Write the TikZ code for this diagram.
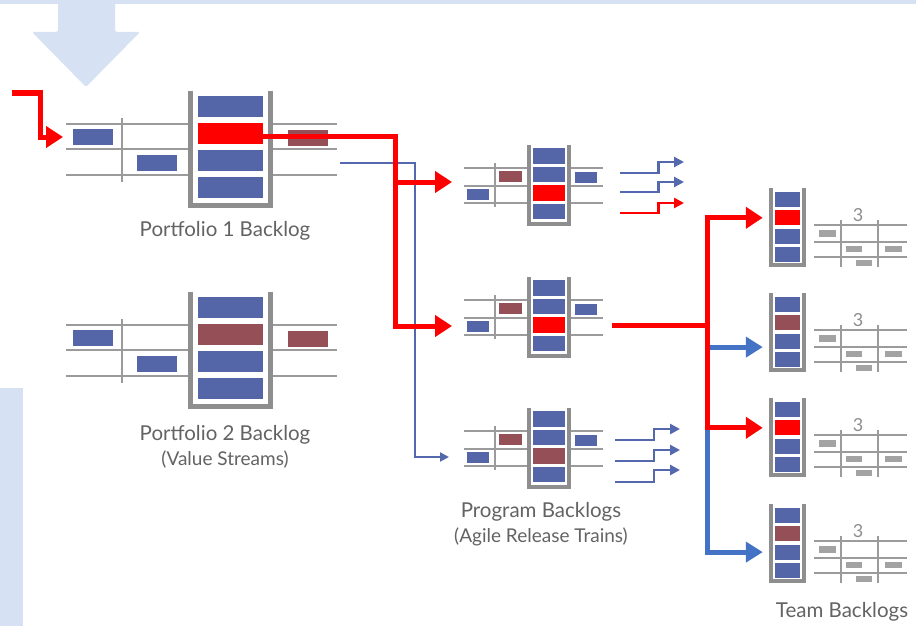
\documentclass[tikz,border=0pt]{standalone}
\usepackage{fontspec}
\setmainfont{Lato}
\usetikzlibrary{arrows.meta, positioning, calc}
\definecolor{bandblue}{HTML}{D6E2F3}
\definecolor{itemblue}{HTML}{5466A8}
\definecolor{itemdark}{HTML}{954F56}
\definecolor{itemred}{HTML}{FF0000}
\definecolor{wallgray}{HTML}{8E8E8E}
\definecolor{linegray}{HTML}{9B9B9B}
\definecolor{taskgray}{HTML}{A3A3A3}
\definecolor{flowblue}{HTML}{4472C4}
\definecolor{thinblue}{HTML}{5468AE}
\definecolor{captiongray}{HTML}{636363}
\tikzset{
  redflow/.style={-{Triangle[length=17pt,width=21pt]}, line width=5pt, draw=itemred},
  blueflow/.style={-{Triangle[length=17pt,width=20pt]}, line width=5pt, draw=flowblue},
  thinflow/.style={-{Triangle[length=9pt,width=9pt]}, line width=2pt, draw=thinblue},
  stepflow/.style={-{Triangle[length=10pt,width=10pt]}, line width=2.8pt},
  wall/.style={draw=wallgray, line width=5pt},
  thinwall/.style={draw=wallgray, line width=4pt},
  rowline/.style={draw=linegray, line width=2.2pt},
  cup/.style={inner sep=0pt, outer sep=0pt},
  item/.style={inner sep=0pt, outer sep=0pt, minimum width=65pt, minimum height=21.5pt},
  card/.style={inner sep=0pt, outer sep=0pt, minimum width=40pt, minimum height=16pt},
  task/.style={fill=taskgray, inner sep=0pt, minimum width=16.5pt, minimum height=6.5pt},
  pts/.style={text=wallgray, font=\fontsize{18}{18}\selectfont, inner sep=0pt},
  caption/.style={text=captiongray, font=\fontsize{20.5}{23}\selectfont, inner sep=0pt},
  subcaption/.style={text=captiongray, font=\fontsize{19}{22}\selectfont, inner sep=0pt},
  % ---- backlog blocks, origin = top left of the cup ----
  pics/portfolio/.style={code={
    \foreach \y in {33,58,84} {
      \draw[rowline] (-122,\y) -- (0,\y);
      \draw[rowline] (85,\y) -- (149,\y);
    }
    \draw[rowline] (-66,27) -- (-66,91);
    \node[cup, minimum width=80pt, minimum height=114.5pt] (-cup) at (42.5,57.25) {};
    \draw[wall] (-cup.north west) |- (-cup.south east) -- (-cup.north east);
    \foreach \c [count=\i] in {itemblue,#1,itemblue,itemblue}
      \node[item, fill=\c] (-\i) at (42.5,-11.5+27*\i) {};
    \node[card, fill=itemblue] (-a) at (-95,46) {};
    \node[card, fill=itemblue] (-b) at (-31.5,71.5) {};
    \node[card, fill=itemdark] (-r) at (120,47) {};
  }},
  pics/program/.style={code={
    \foreach \y in {23,41,58} {
      \draw[rowline] (-63,\y) -- (0,\y);
      \draw[rowline] (44,\y) -- (76,\y);
    }
    \draw[rowline] (-32,18) -- (-32,62);
    \node[cup, minimum width=40pt, minimum height=79pt] (-cup) at (22,39.5) {};
    \draw[thinwall] (-cup.north west) |- (-cup.south east) -- (-cup.north east);
    \foreach \c [count=\i] in {itemblue,itemblue,#1,itemblue}
      \node[item, minimum width=32pt, minimum height=15.5pt, fill=\c] (-\i) at (22,-7.5+18.5*\i) {};
    \node[card, minimum width=23pt, minimum height=11pt, fill=itemdark] (-a) at (-16.5,31.5) {};
    \node[card, minimum width=22pt, minimum height=11pt, fill=itemblue] (-b) at (-49,49) {};
    \node[card, minimum width=22pt, minimum height=11pt, fill=itemblue] (-r) at (59,32) {};
  }},
  pics/team/.style={code={
    \node[cup, minimum width=32.5pt, minimum height=77pt] (-cup) at (18.25,38.5) {};
    \draw[thinwall] (-cup.north west) |- (-cup.south east) -- (-cup.north east);
    \foreach \c [count=\i] in {itemblue,#1,itemblue,itemblue}
      \node[item, minimum width=25pt, minimum height=15pt, fill=\c] (-\i) at (18.25,-6.8+18.3*\i) {};
    \foreach \y in {37,54,69} \draw[rowline, line width=2pt] (45,\y) -- (138,\y);
    \foreach \x in {72,109} \draw[rowline, line width=2pt] (\x,32) -- (\x,79);
    \node[pts] (-pts) at (89,27) {3};
    \node[task] (-t1) at (58.5,45.5) {};
    \node[task] (-t2) at (85,61) {};
    \node[task] (-t3) at (124.5,61) {};
    \node[task] (-t4) at (95,75) {};
  }},
}

\begin{document}
\begin{tikzpicture}[x=1pt, y=-1pt]

\useasboundingbox (0,0) rectangle (916,626);
\fill[white] (0,0) rectangle (916,626);

% ---- light blue frame pieces ----
\fill[bandblue] (0,0) rectangle (916,4);
\fill[bandblue, rounded corners=1.5pt] (58,0) -- (58,32) -- (32,32) -- (86,87)
  -- (140,32) -- (115,32) -- (115,0) -- cycle;
\fill[bandblue] (0,388) rectangle (23,626);

% ---- portfolio backlogs ----
\pic (pf1) at (188,91) {portfolio=itemred};
\pic (pf2) at (188,292) {portfolio=itemdark};
\node[caption] (pf1-label) at (225,231) {Portfolio 1 Backlog};
\node[caption] (pf2-label) at (225,435) {Portfolio 2 Backlog};
\node[subcaption, below=6pt of pf2-label] (pf2-sub) {(Value Streams)};

% ---- program backlogs ----
\pic (pg1) at (527,145) {program=itemred};
\pic (pg2) at (527,277) {program=itemred};
\pic (pg3) at (527,408) {program=itemdark};
\node[caption] (pg-label) at (541,512) {Program Backlogs};
\node[subcaption, below=6pt of pg-label] (pg-sub) {(Agile Release Trains)};

% ---- team backlogs ----
\pic (tm1) at (769,188) {team=itemred};
\pic (tm2) at (769,293) {team=itemdark};
\pic (tm3) at (769,398) {team=itemred};
\pic (tm4) at (769,504) {team=itemdark};
\node[caption] (tm-label) at (842,612) {Team Backlogs};

% ---- entry into portfolio 1 ----
\coordinate (entry) at (12,93);
\coordinate (entrybend) at (40,93);
\draw[redflow, shorten >=10pt] (entry) -- (entrybend) |- (pf1-a.west);

% ---- portfolio -> program ----
\coordinate (pf1-out) at (340,163);
\coordinate (bluebus) at (415,300);
\coordinate (redbus) at (395,250);
\coordinate (pg1-in) at ([xshift=-15pt,yshift=12pt]pg1-b.west);
\coordinate (pg2-in) at ([xshift=-15pt]pg2-b.west);
\coordinate (pg3-in) at ([xshift=-18pt]pg3-b.west);
\draw[thinflow] (pf1-out) -| (bluebus) |- (pg3-in);
\draw[redflow] ([yshift=-3pt]pf1-2.east) -| (redbus) |- (pg2-in);
\draw[redflow] (redbus |- pg1-in) -- (pg1-in);

% ---- program outputs (stepped) ----
\foreach \ya/\yb/\c [count=\k] in {173/162/thinblue,192/182/thinblue,213/203/itemred} {
  \coordinate (pg1-o\k) at (620,\ya);
  \coordinate (pg1-t\k) at (684,\yb);
  \draw[stepflow, draw=\c] (pg1-o\k) -| ($(pg1-o\k)!.6!(pg1-t\k)$) |- (pg1-t\k);
}
\foreach \ya/\yb [count=\k] in {440/429,461/450,482/470} {
  \coordinate (pg3-o\k) at (615,\ya);
  \coordinate (pg3-t\k) at (680,\yb);
  \draw[stepflow, draw=thinblue] (pg3-o\k) -| ($(pg3-o\k)!.6!(pg3-t\k)$) |- (pg3-t\k);
}

% ---- program -> teams ----
\coordinate (trunk) at (707.5,0);
\coordinate (pg2-out) at ([xshift=47pt]pg2-3.east);
\coordinate (tm1-in) at ([xshift=-12pt]tm1-2.west);
\coordinate (tm2-in) at ([xshift=-12pt,yshift=-6pt]tm2-3.west);
\coordinate (tm3-in) at ([xshift=-12pt]tm3-2.west);
\coordinate (tm4-in) at ([xshift=-12pt]tm4-3.west);
\draw[blueflow] (tm2-in -| trunk) -- (tm2-in);
\draw[blueflow] (tm3-in -| trunk) |- (tm4-in);
\draw[redflow] (pg2-out) -- (pg2-out -| trunk) |- (tm1-in);
\draw[redflow] (pg2-out -| trunk) |- (tm3-in);

\end{tikzpicture}
\end{document}
